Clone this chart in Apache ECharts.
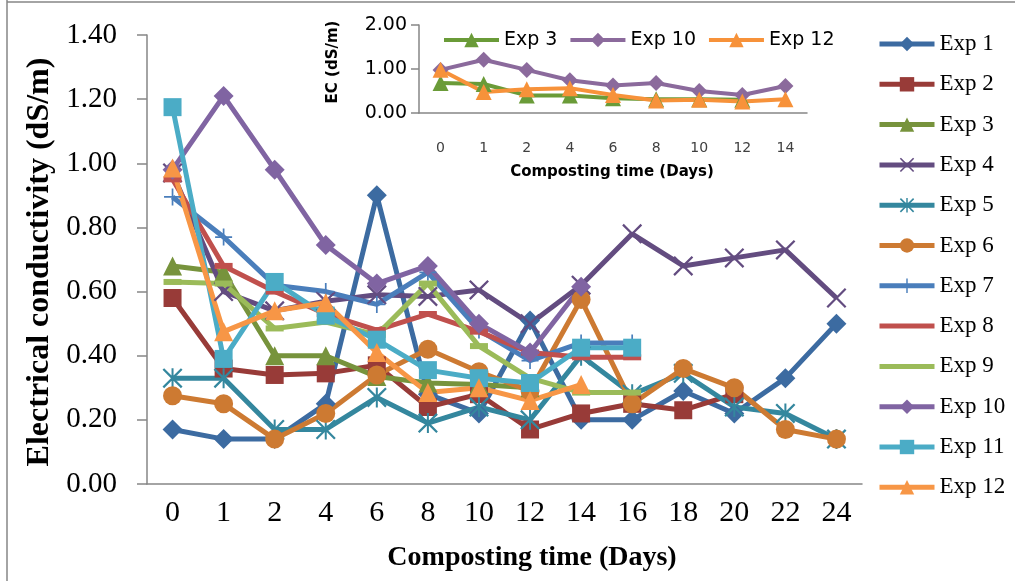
<!DOCTYPE html>
<html>
<head>
<meta charset="utf-8">
<script src="https://cdn.jsdelivr.net/npm/echarts@6/dist/echarts.min.js"></script>
<style>
html,body{margin:0;padding:0;background:#fff;}
#chart{width:1015px;height:581px;}
</style>
</head>
<body>
<div id="chart"></div>
<script>
// ---- data ----
const categories = ['0','1','2','4','6','8','10','12','14','16','18','20','22','24'];
const insetCategories = ['0','1','2','4','6','8','10','12','14'];

const exp1  = [0.17, 0.14, 0.14, 0.25, 0.90, 0.28, 0.22, 0.51, 0.20, 0.20, 0.29, 0.22, 0.33, 0.50];
const exp2  = [0.58, 0.36, 0.34, 0.345, 0.37, 0.24, 0.28, 0.17, 0.22, 0.25, 0.23, 0.28, null, null];
const exp3  = [0.68, 0.66, 0.40, 0.40, 0.335, 0.315, 0.31, 0.30, null, null, null, null, null, null];
const exp4  = [0.97, 0.60, 0.54, 0.57, 0.59, 0.585, 0.605, 0.50, 0.62, 0.78, 0.68, 0.705, 0.73, 0.58];
const exp5  = [0.33, 0.33, 0.17, 0.17, 0.27, 0.19, 0.24, 0.20, 0.40, 0.28, 0.345, 0.24, 0.22, 0.14];
const exp6  = [0.275, 0.25, 0.14, 0.22, 0.34, 0.42, 0.35, 0.29, 0.575, 0.25, 0.36, 0.30, 0.17, 0.14];
const exp7  = [0.895, 0.77, 0.62, 0.60, 0.56, 0.66, 0.48, 0.385, 0.44, 0.44, null, null, null, null];
const exp8  = [0.95, 0.68, 0.60, 0.53, 0.48, 0.53, 0.475, 0.41, 0.395, 0.395, null, null, null, null];
const exp9  = [0.63, 0.625, 0.485, 0.505, 0.465, 0.625, 0.43, 0.33, 0.285, 0.285, null, null, null, null];
const exp10 = [0.98, 1.21, 0.98, 0.745, 0.625, 0.68, 0.50, 0.41, 0.615, null, null, null, null, null];
const exp11 = [1.175, 0.39, 0.63, 0.525, 0.45, 0.355, 0.33, 0.315, 0.425, 0.425, null, null, null, null];
const exp12 = [0.985, 0.475, 0.54, 0.565, 0.41, 0.285, 0.30, 0.26, 0.31, null, null, null, null, null];

const seriesNames = ['Exp 1','Exp 2','Exp 3','Exp 4','Exp 5','Exp 6','Exp 7','Exp 8','Exp 9','Exp 10','Exp 11','Exp 12'];
const insetNames = ['Exp 3','Exp 10','Exp 12'];

// ---- styles ----
const SYM_X = 'path://M1.6,0 L10,8.4 L18.4,0 L20,1.6 L11.6,10 L20,18.4 L18.4,20 L10,11.6 L1.6,20 L0,18.4 L8.4,10 L0,1.6 Z';
const SYM_PLUS = 'path://M9,0 L11,0 L11,9 L20,9 L20,11 L11,11 L11,20 L9,20 L9,11 L0,11 L0,9 L9,9 Z';
const SYM_STAR = 'path://M1.6,0 L10,8.4 L18.4,0 L20,1.6 L11.6,10 L20,18.4 L18.4,20 L10,11.6 L1.6,20 L0,18.4 L8.4,10 L0,1.6 Z M9,0 L11,0 L11,20 L9,20 Z';

const styles = [
  {c:'#3C6BA1', s:'diamond', z:20},
  {c:'#983B38', s:'rect', z:18},
  {c:'#77933C', s:'triangle', z:19},
  {c:'#634C80', s:SYM_X, z:20},
  {c:'#34879E', s:SYM_STAR, z:20},
  {c:'#CD7A32', s:'circle', z:19},
  {c:'#4A7EBB', s:SYM_PLUS, z:17},
  {c:'#C0504D', s:'rect', z:[18,6]},
  {c:'#9BBB59', s:'rect', z:[18,6]},
  {c:'#8064A2', s:'diamond', z:20},
  {c:'#4BACC6', s:'rect', z:18},
  {c:'#F79646', s:'triangle', z:19}
];
const mainData = [exp1,exp2,exp3,exp4,exp5,exp6,exp7,exp8,exp9,exp10,exp11,exp12];
const insetData = [exp3.slice(0,9), exp10.slice(0,9), exp12.slice(0,9)];
const insetColors = ['#6A9B38','#8B6A9C','#F7923A'];
const insetSymbols = ['triangle','diamond','triangle'];

const series = mainData.map((d,i)=>({
  type:'line', name:seriesNames[i], data:d,
  xAxisIndex:0, yAxisIndex:0,
  symbol:styles[i].s, symbolSize:styles[i].z,
  lineStyle:{color:styles[i].c, width:5},
  itemStyle:{color:styles[i].c},
  emphasis:{disabled:true},
  animation:false
}));
insetData.forEach((d,i)=>{
  series.push({
    type:'line', name:'inset ' + insetNames[i], data:d,
    xAxisIndex:1, yAxisIndex:1,
    symbol:insetSymbols[i], symbolSize:16,
    lineStyle:{color:insetColors[i], width:4},
    itemStyle:{color:insetColors[i]},
    emphasis:{disabled:true},
    animation:false
  });
});

const serif = 'Liberation Serif, Times New Roman, serif';
const sans = 'DejaVu Sans, sans-serif';
const axisGray = '#868686';

const legendData = seriesNames.map((n,i)=> (i===7||i===8) ? {name:n, icon:'path://M0,0 L55,0 L55,5 L0,5 Z'} : {name:n});

const option = {
  backgroundColor:'#fff',
  animation:false,
  grid:[
    {left:147, right:153, top:35, bottom:97},
    {left:419, right:208, top:25, bottom:468}
  ],
  xAxis:[
    {type:'category', gridIndex:0, data:categories, boundaryGap:true,
     axisLine:{lineStyle:{color:axisGray, width:1.5}}, axisTick:{show:false},
     axisLabel:{color:'#000', fontFamily:serif, fontSize:30, margin:14},
     splitLine:{show:false}},
    {type:'category', gridIndex:1, data:insetCategories, boundaryGap:true,
     axisLine:{lineStyle:{color:axisGray, width:1.5}}, axisTick:{show:false},
     axisLabel:{color:'#404040', fontFamily:sans, fontSize:14, margin:28},
     splitLine:{show:false}}
  ],
  yAxis:[
    {type:'value', gridIndex:0, min:0, max:1.4, interval:0.2,
     axisLine:{show:true, lineStyle:{color:axisGray, width:1.5}},
     axisTick:{show:true, inside:false, length:10, lineStyle:{color:axisGray, width:1.5}},
     axisLabel:{color:'#000', fontFamily:serif, fontSize:29, margin:30, formatter:v=>v.toFixed(2)},
     splitLine:{show:false}},
    {type:'value', gridIndex:1, min:0, max:2, interval:1,
     axisLine:{show:true, lineStyle:{color:axisGray, width:1.5}},
     axisTick:{show:true, inside:false, length:8, lineStyle:{color:axisGray, width:1.5}},
     axisLabel:{color:'#000', fontFamily:sans, fontSize:19, margin:12, formatter:v=>v.toFixed(2)},
     splitLine:{show:false}}
  ],
  legend:[
    {data:legendData, orient:'vertical', left:877, top:32.5, padding:0,
     itemWidth:55, itemHeight:18, itemGap:17.3,
     lineStyle:{width:5},
     textStyle:{fontFamily:serif, fontSize:23, color:'#000', lineHeight:23},
     selectedMode:false},
    {data:insetNames.map(n=>'inset ' + n), orient:'horizontal', left:442, top:30, padding:0,
     itemWidth:55, itemHeight:18, itemGap:11,
     lineStyle:{width:4},
     formatter:n=>n.replace('inset ',''),
     textStyle:{fontFamily:sans, fontSize:19, color:'#000', lineHeight:20},
     selectedMode:false}
  ],
  graphic:[
    {type:'line', shape:{x1:7, y1:0, x2:7, y2:581}, style:{stroke:axisGray, lineWidth:1.5}, silent:true},
    {type:'line', shape:{x1:7, y1:2, x2:1015, y2:2}, style:{stroke:axisGray, lineWidth:1.5}, silent:true},
    {type:'text', x:40, y:262, rotation:Math.PI/2,
     style:{text:'Electrical conductivity (dS/m)', fill:'#000', font:'bold 32px ' + serif, align:'center', verticalAlign:'middle'}},
    {type:'text', x:532, y:558,
     style:{text:'Composting time (Days)', fill:'#000', font:'bold 28px ' + serif, align:'center', verticalAlign:'middle'}},
    {type:'text', x:333, y:62, rotation:Math.PI/2,
     style:{text:'EC (dS/m)', fill:'#000', font:'bold 15px ' + sans, align:'center', verticalAlign:'middle'}},
    {type:'text', x:612, y:172,
     style:{text:'Composting time (Days)', fill:'#000', font:'bold 15px ' + sans, align:'center', verticalAlign:'middle'}}
  ],
  series:series
};

const chart = echarts.init(document.getElementById('chart'), null, {renderer:'canvas'});
chart.setOption(option);
</script>
</body>
</html>
